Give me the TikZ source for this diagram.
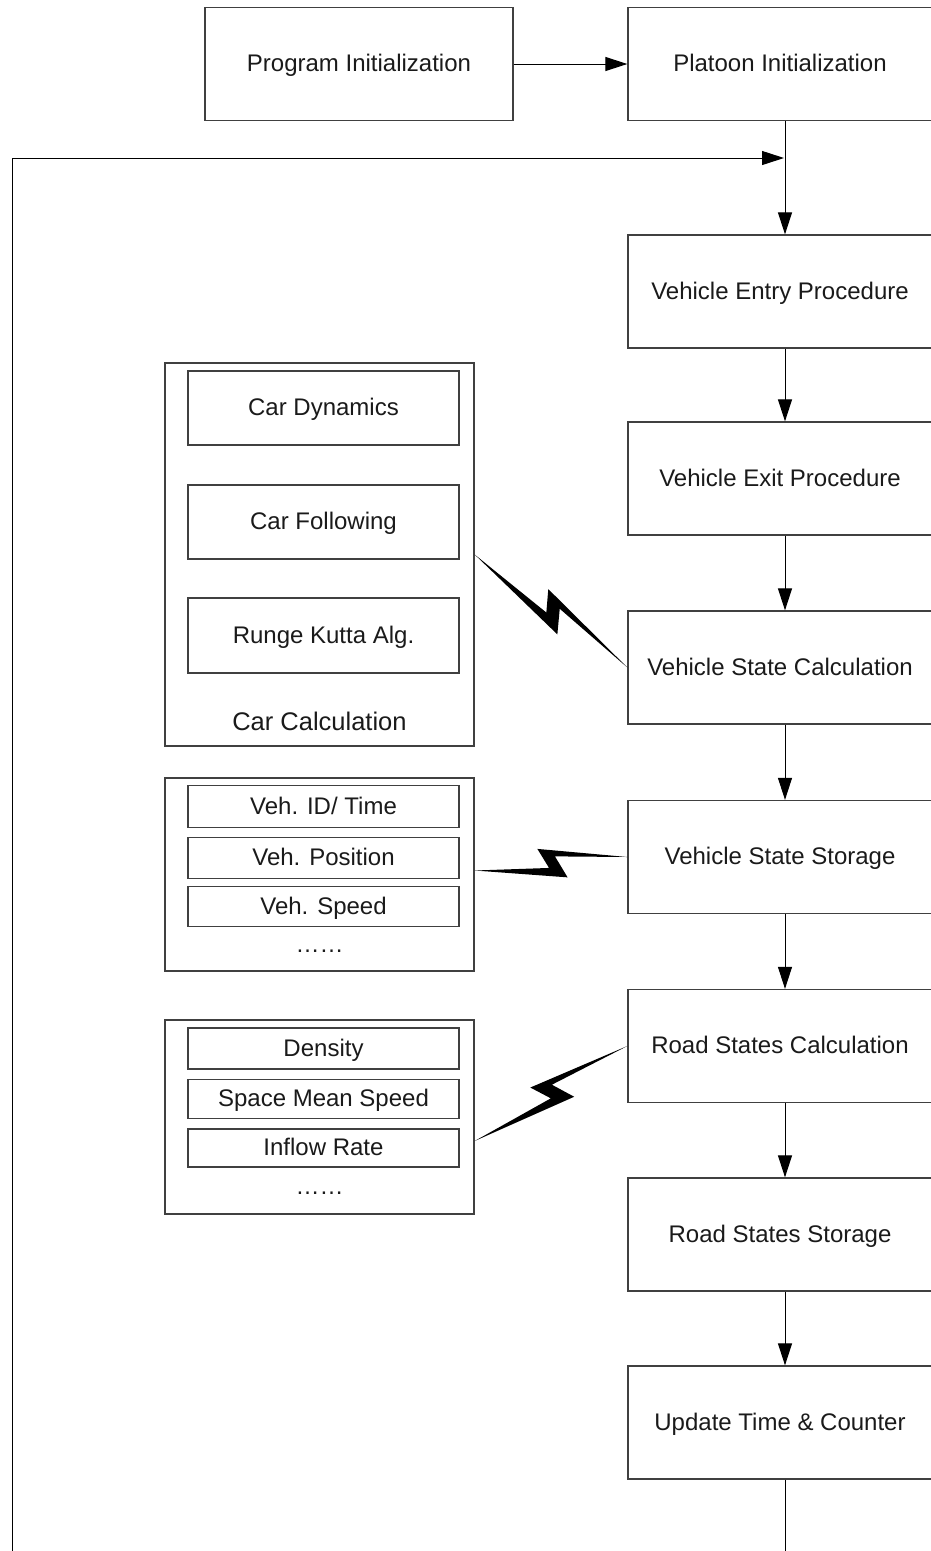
\documentclass[tikz,border=0pt]{standalone}
\usepackage{fontspec}
\setmainfont{Liberation Sans}
\usetikzlibrary{calc,arrows.meta}

\definecolor{boxline}{HTML}{404040}
\definecolor{ink}{HTML}{1A1A1A}

% lightning connector between two points
\newcommand\zap[2]{%
  \fill ($(#1)$) -- ($(#1)!0.485!(#2)!4pt!-90:(#2)$)
    -- ($(#1)!0.42!(#2)!16pt!90:(#2)$) -- ($(#2)$)
    -- ($(#1)!0.53!(#2)!7pt!90:(#2)$)
    -- ($(#1)!0.6!(#2)!15pt!-90:(#2)$) -- cycle;}

\begin{document}
\begin{tikzpicture}[x=1pt,y=-1pt,
  txt/.style={text=ink,font=\fontsize{24pt}{28pt}\selectfont,text depth=2pt},
  stepbox/.style={txt,draw=boxline,line width=1.3pt,inner sep=0pt,
    minimum width=304pt,minimum height=113pt},
  grpbox/.style={draw=boxline,line width=1.3pt,inner sep=0pt,minimum width=309pt},
  inbox/.style={txt,draw=boxline,line width=1.3pt,inner sep=0pt,minimum width=271pt},
  arr/.style={line width=1pt,-{Triangle[length=22pt,width=14pt]}}]
\useasboundingbox (0,0) rectangle (930,1551);

% main column
\node[stepbox,minimum width=308pt] (prog) at (359,64) {Program Initialization};
\node[stepbox] (plat) at (780,64) {Platoon Initialization};
\node[stepbox] (entry) at (780,291.5) {Vehicle Entry Procedure};
\node[stepbox] (exit) at (780,478.5) {Vehicle Exit Procedure};
\node[stepbox] (vcalc) at (780,667.5) {Vehicle State Calculation};
\node[stepbox] (vstore) at (780,857) {Vehicle State Storage};
\node[stepbox] (rcalc) at (780,1046) {Road States Calculation};
\node[stepbox] (rstore) at (780,1234.5) {Road States Storage};
\node[stepbox] (updt) at (780,1422.5) {Update Time \& Counter};

% car calculation group
\node[grpbox,minimum height=383pt] (carg) at (319.5,554.5) {};
\node[inbox,minimum height=74pt] (cdyn) at (323.5,408) {Car Dynamics};
\node[inbox,minimum height=74pt] (cfol) at (323.5,522) {Car Following};
\node[inbox,minimum height=75pt] (rk) at (323.5,635.5) {Runge Kutta Alg.};
\node[text=ink,font=\fontsize{25.5pt}{30pt}\selectfont] (carlbl) at (319.5,721) {Car Calculation};

% vehicle state group
\node[grpbox,minimum height=193pt] (vsg) at (319.5,874.5) {};
\node[inbox,minimum height=42pt] (vid) at (323.5,806.5) {Veh. ID/ Time};
\node[inbox,minimum height=41pt] (vpos) at (323.5,858) {Veh. Position};
\node[inbox,minimum height=40pt] (vspd) at (323.5,906.5) {Veh. Speed};
\node[txt] (vdots) at (319.5,952) {……};

% road state group
\node[grpbox,minimum height=194pt] (rdg) at (319.5,1117) {};
\node[inbox,minimum height=41pt] (dens) at (323.5,1048.5) {Density};
\node[inbox,minimum height=39pt] (smspd) at (323.5,1099) {Space Mean Speed};
\node[inbox,minimum height=38pt] (infl) at (323.5,1148) {Inflow Rate};
\node[txt] (rdots) at (319.5,1194) {……};

% connectors
\draw[arr] (prog) -- (plat);
\foreach \a/\b in {plat/entry,entry/exit,exit/vcalc,vcalc/vstore,vstore/rcalc,rcalc/rstore,rstore/updt}
  \draw[arr] ([xshift=5pt]\a.south) -- ([xshift=5pt]\b.north);
\draw[line width=1pt] ([xshift=5pt]updt.south) -- ++(0,120);
\coordinate (loopin) at (784,158);
\coordinate (loopend) at (12,1600);
\draw[arr] (loopend) |- (loopin);

% lightning links
\zap{carg.east}{vcalc.west}
\coordinate (vsz) at ([yshift=4pt]vsg.east);
\zap{vsz}{vstore.west}
\coordinate (rgz) at ([yshift=-24pt]rdg.east);
\zap{rgz}{rcalc.west}
\end{tikzpicture}
\end{document}
